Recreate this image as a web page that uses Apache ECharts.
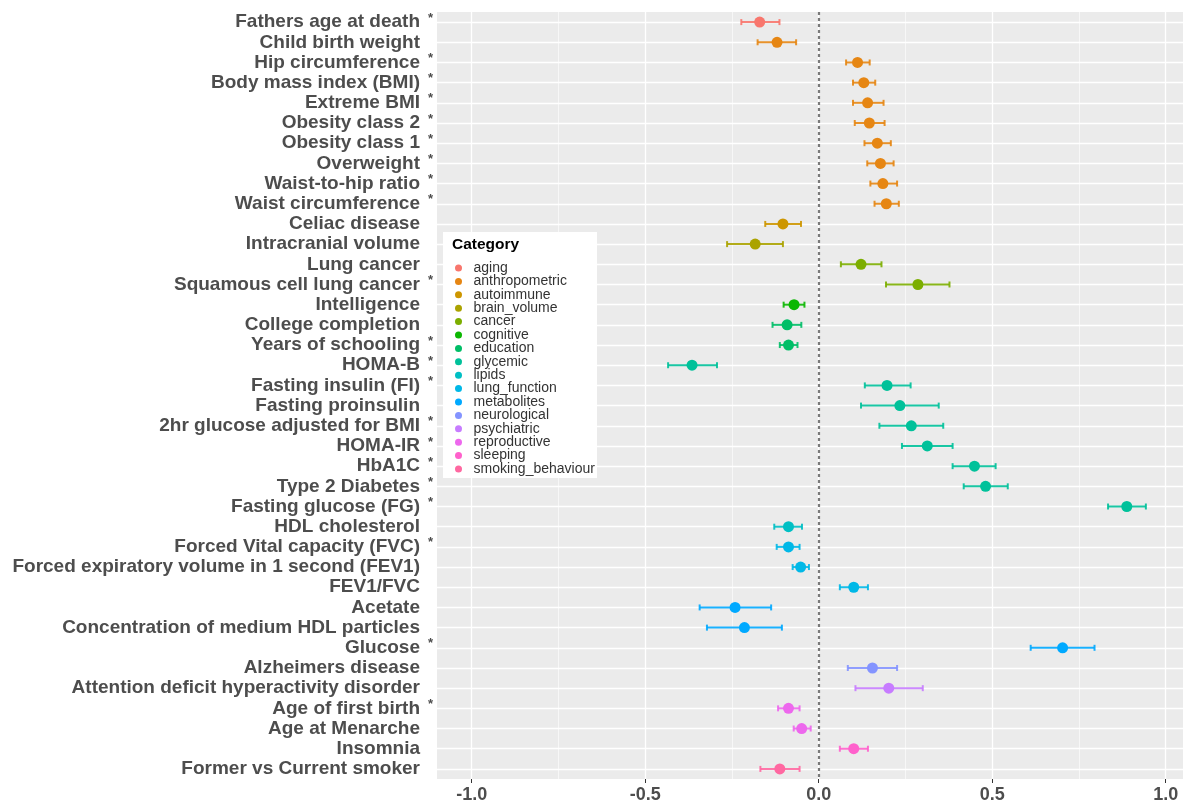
<!DOCTYPE html>
<html>
<head>
<meta charset="utf-8">
<script src="https://cdn.jsdelivr.net/npm/echarts@6/dist/echarts.min.js"></script>
<style>
  html, body { margin: 0; padding: 0; background: #fff; }
  #chart { width: 1195px; height: 803px; }
</style>
</head>
<body>
<div id="chart"></div>
<script>
// filas del forest plot (de arriba hacia abajo)
const rowLabels = [
  'Fathers age at death', 'Child birth weight', 'Hip circumference', 'Body mass index (BMI)',
  'Extreme BMI', 'Obesity class 2', 'Obesity class 1', 'Overweight', 'Waist-to-hip ratio',
  'Waist circumference', 'Celiac disease', 'Intracranial volume', 'Lung cancer',
  'Squamous cell lung cancer', 'Intelligence', 'College completion', 'Years of schooling',
  'HOMA-B', 'Fasting insulin (FI)', 'Fasting proinsulin', '2hr glucose adjusted for BMI',
  'HOMA-IR', 'HbA1C', 'Type 2 Diabetes', 'Fasting glucose (FG)', 'HDL cholesterol',
  'Forced Vital capacity (FVC)', 'Forced expiratory volume in 1 second (FEV1)', 'FEV1/FVC',
  'Acetate', 'Concentration of medium HDL particles', 'Glucose', 'Alzheimers disease',
  'Attention deficit hyperactivity disorder', 'Age of first birth', 'Age at Menarche',
  'Insomnia', 'Former vs Current smoker'
];
const starred = [1, 0, 1, 1, 1, 1, 1, 1, 1, 1, 0, 0, 0, 1, 0, 0, 1, 1, 1, 0, 1, 1, 1, 1, 1,
                 0, 1, 0, 0, 0, 0, 1, 0, 0, 1, 0, 0, 0];
const rowCategory = [
  'aging', 'anthropometric', 'anthropometric', 'anthropometric', 'anthropometric',
  'anthropometric', 'anthropometric', 'anthropometric', 'anthropometric', 'anthropometric',
  'autoimmune', 'brain_volume', 'cancer', 'cancer', 'cognitive', 'education', 'education',
  'glycemic', 'glycemic', 'glycemic', 'glycemic', 'glycemic', 'glycemic', 'glycemic', 'glycemic',
  'lipids', 'lung_function', 'lung_function', 'lung_function', 'metabolites', 'metabolites',
  'metabolites', 'neurological', 'psychiatric', 'reproductive', 'reproductive', 'sleeping',
  'smoking_behaviour'
];
const estimate = [-0.170, -0.120, 0.112, 0.130, 0.141, 0.146, 0.169, 0.178, 0.185, 0.195,
                  -0.103, -0.183, 0.122, 0.286, -0.071, -0.091, -0.087, -0.365, 0.197, 0.234,
                  0.267, 0.313, 0.449, 0.481, 0.888, -0.087, -0.087, -0.052, 0.101, -0.241,
                  -0.214, 0.703, 0.155, 0.202, -0.087, -0.049, 0.101, -0.112];
const lowerCI = [-0.223, -0.176, 0.079, 0.099, 0.099, 0.104, 0.132, 0.140, 0.149, 0.161,
                 -0.154, -0.264, 0.064, 0.194, -0.101, -0.133, -0.112, -0.434, 0.133, 0.122,
                 0.175, 0.240, 0.386, 0.418, 0.834, -0.128, -0.121, -0.075, 0.061, -0.343,
                 -0.322, 0.611, 0.084, 0.106, -0.117, -0.072, 0.061, -0.168];
const upperCI = [-0.113, -0.065, 0.147, 0.163, 0.187, 0.190, 0.208, 0.216, 0.226, 0.231,
                 -0.051, -0.103, 0.181, 0.377, -0.041, -0.050, -0.061, -0.293, 0.265, 0.346,
                 0.359, 0.386, 0.510, 0.545, 0.943, -0.048, -0.055, -0.028, 0.142, -0.137,
                 -0.106, 0.795, 0.226, 0.300, -0.055, -0.023, 0.142, -0.055];
const categories = ['aging', 'anthropometric', 'autoimmune', 'brain_volume', 'cancer', 'cognitive',
  'education', 'glycemic', 'lipids', 'lung_function', 'metabolites', 'neurological',
  'psychiatric', 'reproductive', 'sleeping', 'smoking_behaviour'];
const majorTicks = [-1, -0.5, 0, 0.5, 1];
const minorTicks = [-0.75, -0.25, 0.25, 0.75];

// paleta hue de ggplot para 16 niveles
const paleta = ['#F8766D', '#E68613', '#CD9600', '#ABA300', '#7CAE00', '#0CB702', '#00BE67',
  '#00C19A', '#00BFC4', '#00B8E7', '#00A9FF', '#8494FF', '#C77CFF', '#ED68ED', '#FF61CC', '#FF68A1'];

const fuente = "'Liberation Sans', Arial, sans-serif";
const gris = '#4D4D4D';

const chart = echarts.init(document.getElementById('chart'));

const series = [];

// serie auxiliar: rejilla blanca y linea punteada en cero (markLine tiene z propio)
series.push({
  name: '_grid',
  type: 'line',
  data: [],
  z: 1,
  silent: true,
  markLine: {
    z: 1,
    silent: true,
    symbol: 'none',
    animation: false,
    label: { show: false },
    data: [
      ...rowLabels.map((l, i) => ({ yAxis: i, lineStyle: { color: '#fff', width: 1.3, type: 'solid' } })),
      ...majorTicks.map(v => ({ xAxis: v, lineStyle: { color: '#fff', width: 1.3, type: 'solid' } })),
      ...minorTicks.map(v => ({ xAxis: v, lineStyle: { color: '#fff', width: 0.6, type: 'solid' } }))
    ]
  }
});
series.push({
  name: '_zero',
  type: 'line',
  data: [],
  z: 2,
  silent: true,
  markLine: {
    z: 2,
    silent: true,
    symbol: 'none',
    animation: false,
    label: { show: false },
    lineStyle: { color: '#7a7a7a', width: 2.2, type: [3, 3] },
    data: [{ xAxis: 0 }]
  }
});

categories.forEach((cat, k) => {
  const color = paleta[k];
  const idx = rowCategory.map((c, i) => (c === cat ? i : -1)).filter(i => i >= 0);
  series.push({
    name: cat,
    type: 'scatter',
    symbol: 'circle',
    symbolSize: 11,
    z: 5,
    itemStyle: { color: color, opacity: 1 },
    data: idx.map(i => [estimate[i], i])
  });
  // barras de error como rectangulos rellenos
  series.push({
    name: cat,
    type: 'custom',
    z: 4,
    itemStyle: { color: color },
    data: idx.map(i => [lowerCI[i], upperCI[i], i]),
    encode: { x: [0, 1], y: 2 },
    renderItem: function (params, api) {
      const p1 = api.coord([api.value(0), api.value(2)]);
      const p2 = api.coord([api.value(1), api.value(2)]);
      const cap = 3, w = 2;
      const fillStyle = { fill: color, stroke: null, opacity: 0.9 };
      return {
        type: 'group',
        children: [
          { type: 'rect', shape: { x: p1[0], y: p1[1] - w / 2, width: p2[0] - p1[0], height: w }, style: fillStyle },
          { type: 'rect', shape: { x: p1[0] - w / 2, y: p1[1] - cap, width: w, height: 2 * cap }, style: fillStyle },
          { type: 'rect', shape: { x: p2[0] - w / 2, y: p2[1] - cap, width: w, height: 2 * cap }, style: fillStyle }
        ]
      };
    }
  });
});

const option = {
  backgroundColor: '#fff',
  animation: false,
  textStyle: { fontFamily: fuente },
  grid: {
    left: 437, right: 12, top: 12, bottom: 24,
    show: true, backgroundColor: '#EBEBEB', borderWidth: 0,
    outerBoundsMode: 'none'
  },
  xAxis: {
    type: 'value',
    min: -1.1,
    max: 1.05,
    axisLine: { show: false },
    splitLine: { show: false },
    axisTick: { show: true, customValues: majorTicks, length: 4, lineStyle: { color: '#333' } },
    axisLabel: {
      customValues: majorTicks,
      margin: 7,
      fontSize: 18,
      fontWeight: 'bold',
      color: gris,
      fontFamily: fuente,
      formatter: v => v.toFixed(1)
    }
  },
  yAxis: {
    type: 'category',
    inverse: true,
    data: rowLabels,
    axisLine: { show: false },
    splitLine: { show: false },
    axisTick: { show: true, alignWithLabel: true, length: 4, lineStyle: { color: '#333' } },
    axisLabel: {
      margin: 4,
      interval: 0,
      formatter: (value, index) => starred[index] ? `{n|${value}}{s|*}` : `{n|${value}}{s| }`,
      rich: {
        n: { fontSize: 19, fontWeight: 'bold', color: gris, fontFamily: fuente },
        s: { fontSize: 13, fontWeight: 'bold', color: gris, fontFamily: fuente, width: 13, align: 'right', padding: [0, 0, 8, 0] }
      }
    }
  },
  title: {
    text: 'Category',
    left: 452,
    top: 237,
    padding: 0,
    z: 30,
    textStyle: { fontSize: 15.5, fontWeight: 'bold', color: '#000', fontFamily: fuente }
  },
  graphic: [{
    type: 'rect',
    left: 443,
    top: 232,
    shape: { width: 154, height: 246 },
    style: { fill: '#fff' },
    z: 10
  }],
  legend: {
    data: categories,
    orient: 'vertical',
    left: 455,
    top: 261,
    padding: 0,
    icon: 'circle',
    itemWidth: 16,
    itemHeight: 7,
    itemGap: -0.6,
    z: 20,
    selectedMode: false,
    textStyle: { fontSize: 14, color: '#333', fontFamily: fuente, padding: [0, 0, 0, 2] }
  },
  series: series
};

chart.setOption(option);
</script>
</body>
</html>
